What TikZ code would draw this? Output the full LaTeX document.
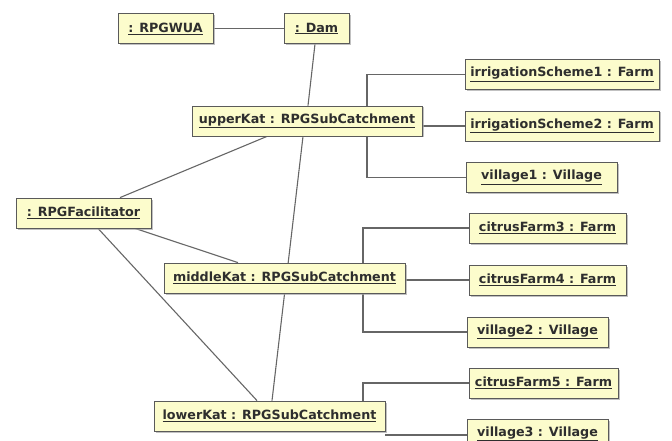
\documentclass[tikz,border=0pt]{standalone}
\usepackage{fontspec}
\newfontfamily\objfont{DejaVu Sans}
\usetikzlibrary{calc,backgrounds,shadows}
\definecolor{objfill}{HTML}{FCFCCC}
\definecolor{objdraw}{HTML}{5A5A5A}
\definecolor{objtext}{HTML}{2E2E2E}
\definecolor{linkcol}{HTML}{666666}
\newcommand{\objname}[1]{\underline{#1}}
\tikzset{
  obj/.style={draw=objdraw, line width=0.8pt, fill=objfill, minimum height=30pt,
    inner sep=0pt, text=objtext, font=\objfont\bfseries\fontsize{12.7}{14}\selectfont,
    drop shadow={shadow xshift=1.5pt, shadow yshift=-1.5pt, fill=black!35, opacity=0.7}},
  link/.style={draw=linkcol, line width=1.1pt}
}
\begin{document}
\begin{tikzpicture}[x=1pt, y=-1pt]
\useasboundingbox (0,0) rectangle (672,441);
% object boxes
\node[obj, minimum width=95pt]  (wua)    at (165.5,28.5) {\objname{: RPGWUA}};
\node[obj, minimum width=65pt]  (dam)    at (316.5,28.5) {\objname{: Dam}};
\node[obj, minimum width=230pt] (upper)  at (307,121)    {\objname{upperKat : RPGSubCatchment}};
\node[obj, minimum width=194pt] (irr1)   at (562,74.5)   {\objname{irrigationScheme1 : Farm}};
\node[obj, minimum width=194pt] (irr2)   at (562,126)    {\objname{irrigationScheme2 : Farm}};
\node[obj, minimum width=151pt] (v1)     at (541.5,177.5){\objname{village1 : Village}};
\node[obj, minimum width=135pt] (fac)    at (83.5,213)   {\objname{: RPGFacilitator}};
\node[obj, minimum width=241pt] (middle) at (284.5,278)  {\objname{middleKat : RPGSubCatchment}};
\node[obj, minimum width=157pt] (cf3)    at (547.5,228)  {\objname{citrusFarm3 : Farm}};
\node[obj, minimum width=157pt] (cf4)    at (547.5,280)  {\objname{citrusFarm4 : Farm}};
\node[obj, minimum width=141pt] (v2)     at (537.5,332)  {\objname{village2 : Village}};
\node[obj, minimum width=149pt] (cf5)    at (543.5,383)  {\objname{citrusFarm5 : Farm}};
\node[obj, minimum width=231pt] (lower)  at (269.5,416)  {\objname{lowerKat : RPGSubCatchment}};
\node[obj, minimum width=141pt] (v3)     at (537.5,434)  {\objname{village3 : Village}};
% links, kept behind the boxes
\begin{scope}[on background layer]
\draw[link] (wua.east) -- (dam.west);
\draw[link] ([xshift=-1.5pt]dam.south) -- ([xshift=1pt]upper.north);
\draw[link] ([xshift=-4pt]upper.south) -- ([xshift=2.5pt]lower.north);
\draw[link] ([xshift=36.5pt]fac.north) -- ([xshift=-40pt]upper.south);
\draw[link] ([xshift=51.5pt]fac.south) -- ([xshift=-46.5pt]middle.north);
\draw[link] ([xshift=14.5pt]fac.south) -- ([xshift=-12.5pt]lower.north);
% upper sub-catchment
\draw[link] (irr1.west) -| ([xshift=60pt]upper.north);
\draw[link] (v1.west) -| ([xshift=60pt]upper.south);
\draw[link] (irr2.west) -- (irr2.west -| upper.east);
% middle sub-catchment
\draw[link] (cf3.west) -| ([xshift=78.5pt]middle.north);
\draw[link] (v2.west) -| ([xshift=78.5pt]middle.south);
\draw[link] (cf4.west) -- (cf4.west -| middle.east);
% lower sub-catchment
\draw[link] (cf5.west) -| ([xshift=93.5pt]lower.north);
\draw[link] ([yshift=-1pt]v3.west) -- ([yshift=-1pt]v3.west -| lower.east);
\end{scope}
\end{tikzpicture}
\end{document}
